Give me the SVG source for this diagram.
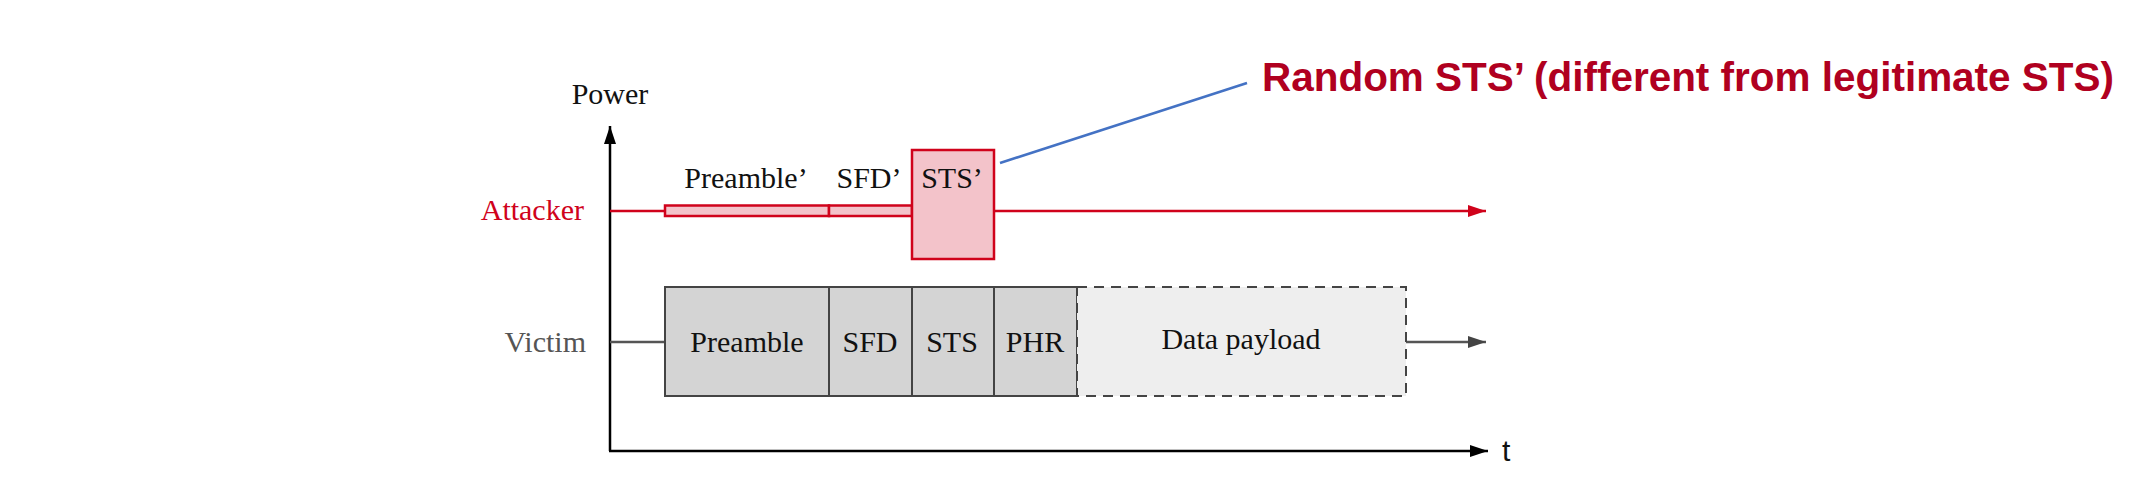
<svg xmlns="http://www.w3.org/2000/svg" width="2140" height="494" viewBox="0 0 2140 494">
<style>
.serif{font-family:"Liberation Serif","Times New Roman",serif;font-size:30px;fill:#111}
.red{stroke:#d0021b;stroke-width:2.5;fill:none}
.rbox{stroke:#d0021b;stroke-width:2.5;fill:#f3c3ca}
.gbox{stroke:#444;stroke-width:2;fill:#d4d4d4}
</style>
<defs>
<marker id="ah" markerWidth="18" markerHeight="12" refX="18" refY="6" orient="auto" markerUnits="userSpaceOnUse"><path d="M0,0 L18,6 L0,12 Z" fill="#000"/></marker>
<marker id="ahr" markerWidth="18" markerHeight="12" refX="18" refY="6" orient="auto" markerUnits="userSpaceOnUse"><path d="M0,0 L18,6 L0,12 Z" fill="#d0021b"/></marker>
<marker id="ahg" markerWidth="18" markerHeight="12" refX="18" refY="6" orient="auto" markerUnits="userSpaceOnUse"><path d="M0,0 L18,6 L0,12 Z" fill="#444"/></marker>
</defs>
<rect width="2140" height="494" fill="#fff"/>
<g id="connectors">
<line x1="610" y1="451" x2="610" y2="126" stroke="#000" stroke-width="2.5" marker-end="url(#ah)"/>
<line x1="609" y1="451" x2="1488" y2="451" stroke="#000" stroke-width="2.5" marker-end="url(#ah)"/>
<line x1="610" y1="211" x2="1486" y2="211" class="red" marker-end="url(#ahr)"/>
<line x1="610" y1="342" x2="665" y2="342" stroke="#555" stroke-width="2.5"/>
<line x1="1406" y1="342" x2="1486" y2="342" stroke="#555" stroke-width="2.5" marker-end="url(#ahg)"/>
<line x1="1000" y1="163" x2="1247" y2="83" stroke="#4472c4" stroke-width="2.5"/>
</g>
<g id="axis-labels">
<text class="serif" x="610" y="104" text-anchor="middle">Power</text>
<text x="1502" y="461" font-family="Liberation Sans, Arial, sans-serif" font-size="30" fill="#111">t</text>
<text class="serif" x="584" y="220" text-anchor="end" style="fill:#d0021b">Attacker</text>
<text class="serif" x="586" y="352" text-anchor="end" style="fill:#555">Victim</text>
</g>
<g id="attacker-preamble">
<rect x="665" y="205.5" width="164" height="10.5" class="rbox"/>
<text class="serif" x="746" y="188" text-anchor="middle">Preamble’</text>
</g>
<g id="attacker-sfd">
<rect x="829" y="205.5" width="83" height="10.5" class="rbox"/>
<text class="serif" x="869" y="188" text-anchor="middle">SFD’</text>
</g>
<g id="attacker-sts">
<rect x="912" y="150" width="82" height="109" class="rbox"/>
<text class="serif" x="952" y="188" text-anchor="middle">STS’</text>
</g>
<g id="victim-preamble">
<rect x="665" y="287" width="164" height="109" class="gbox"/>
<text class="serif" x="747" y="352" text-anchor="middle">Preamble</text>
</g>
<g id="victim-sfd">
<rect x="829" y="287" width="83" height="109" class="gbox"/>
<text class="serif" x="870" y="352" text-anchor="middle">SFD</text>
</g>
<g id="victim-sts">
<rect x="912" y="287" width="82" height="109" class="gbox"/>
<text class="serif" x="952" y="352" text-anchor="middle">STS</text>
</g>
<g id="victim-phr">
<rect x="994" y="287" width="83" height="109" class="gbox"/>
<text class="serif" x="1035" y="352" text-anchor="middle">PHR</text>
</g>
<g id="victim-data">
<rect x="1077" y="287" width="329" height="109" fill="#eeeeee" stroke="#444" stroke-width="2" stroke-dasharray="10,7"/>
<text class="serif" x="1241" y="349" text-anchor="middle">Data payload</text>
</g>
<g id="callout">
<text x="1262" y="91" font-family="Liberation Sans, Arial, sans-serif" font-weight="bold" font-size="40" fill="#b00020" textLength="852" lengthAdjust="spacingAndGlyphs">Random STS’ (different from legitimate STS)</text>
</g>
</svg>
